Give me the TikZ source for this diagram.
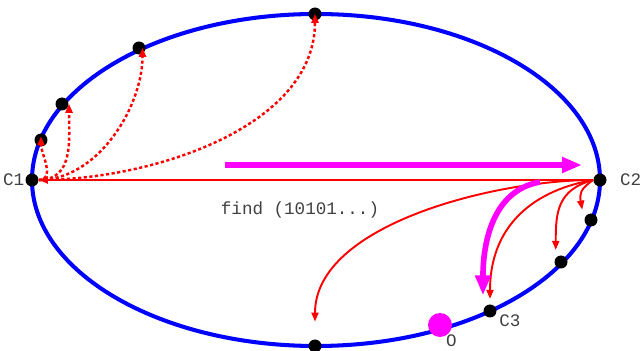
\documentclass[tikz,border=0pt]{standalone}
\usepackage{fontspec}
\newfontfamily\labelfont{Liberation Mono}
\usepackage{tikz}
\usetikzlibrary{arrows.meta, positioning}
\definecolor{route}{RGB}{255,0,255}

\begin{document}
\begin{tikzpicture}[x=0.02cm, y=-0.02cm, >=Stealth,
    pt/.style={circle, fill=black, inner sep=0pt, minimum size=0.26cm},
    lbl/.style={font=\labelfont, text=black!75},
    jump/.style={red, line width=1.1pt, -{Triangle[length=1.8mm, width=1.4mm]}},
    hop/.style={jump, line width=1.4pt, dash pattern=on 1.8pt off 1.4pt},
    walk/.style={route, line width=3.2pt, -{Triangle[length=4mm, width=3mm]}}]
    \useasboundingbox (0,0) rectangle (640,351);

    % the ring
    \draw[blue, line width=2.3pt] (316,180) ellipse [x radius=284, y radius=166];

    % points on the ring
    \node[pt] (c1) at (32,180) {};
    \node[pt] (c2) at (600,180) {};
    \node[pt] (c3) at (490,311) {};
    \node[pt] (p1) at (41,140) {};
    \node[pt] (p2) at (62,104) {};
    \node[pt] (p3) at (139,48) {};
    \node[pt] (p4) at (315,14) {};
    \node[pt] (q1) at (591,220) {};
    \node[pt] (q2) at (561,262) {};
    \node[pt] (q3) at (315,346) {};
    \node[circle, fill=route, inner sep=0pt, minimum size=0.48cm] (o) at (440,325) {};

    \node[lbl, left=-3pt of c1] {C1};
    \node[lbl, right=4pt of c2] {C2};
    \node[lbl, below right=-4pt and -1pt of c3] {C3};
    \node[lbl, below right=-3pt and -5pt of o] {O};
    \node[lbl] (query) at (300,210) {find (10101...)};

    % fingers from C1
    \draw[hop] (c1.east) to[out=0, in=-90, looseness=1] ([yshift=6pt]p1.south);
    \draw[hop] (c1.east) to[out=0, in=-90, looseness=1.1] ([shift={(4pt,4pt)}]p2.south);
    \draw[hop] (c1.east) to[out=0, in=-90, looseness=0.9] ([shift={(2pt,4pt)}]p3.south);
    \draw[hop] (c1.east) to[out=0, in=-90, looseness=0.9] ([yshift=4pt]p4.south);

    % lookups from C2
    \draw[jump] (c2.west) -- (c1.east);
    \draw[jump] (c2.west) to[out=180, in=90, looseness=0.8] ([yshift=10pt]q3.north);
    \draw[jump] (c2.west) to[out=190, in=90, looseness=1.1] ([yshift=3pt]c3.north);
    \draw[jump] (c2.west) to[out=195, in=90, looseness=1.2] ([shift={(-3pt,3pt)}]q2.north);
    \draw[jump] (c2.west) to[out=215, in=100, looseness=1.3] ([shift={(-5pt,2pt)}]q1.north);

    % the route taken
    \coordinate (walk0) at (225,165);
    \coordinate (walk1) at (582,165);
    \coordinate (bend0) at (540,182);
    \draw[walk] (walk0) -- (walk1);
    \draw[walk] (bend0) to[out=190, in=90, looseness=1] ([shift={(-4pt,5pt)}]c3.north);
\end{tikzpicture}
\end{document}
